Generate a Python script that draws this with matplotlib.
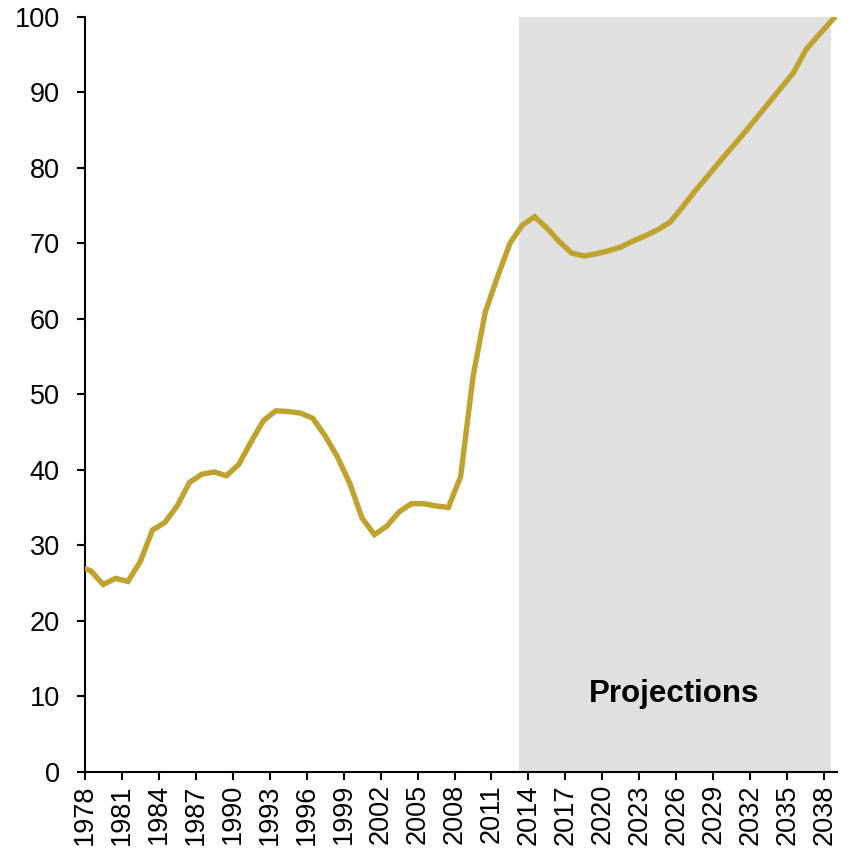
import matplotlib
matplotlib.use("Agg")
import matplotlib.pyplot as plt
import numpy as np

plt.rcParams['font.family'] = ['Liberation Sans', 'DejaVu Sans']

# Annual values, plotted at mid-year
years = np.arange(1977, 2040)
values = [
    27.2, 26.6, 24.8, 25.6, 25.2, 27.8, 32.0, 33.0, 35.2, 38.3,
    39.4, 39.7, 39.2, 40.7, 43.7, 46.5, 47.8, 47.7, 47.5, 46.8,
    44.5, 41.7, 38.2, 33.6, 31.4, 32.5, 34.4, 35.5, 35.5, 35.2,
    35.0, 39.1, 52.3, 60.9, 65.6, 70.0, 72.4, 73.5, 72.0, 70.2,
    68.7, 68.3, 68.6, 69.0, 69.5, 70.3, 71.0, 71.8, 72.8, 74.8,
    76.9, 78.8, 80.8, 82.7, 84.6, 86.6, 88.6, 90.6, 92.6, 95.6,
    97.5, 99.3, 101.2,
]
tick_years = list(range(1978, 2039, 3))
proj_start, proj_end = 2013.25, 2038.5
proj_label = "Projections"

fig = plt.figure(figsize=(8.52, 8.48), dpi=100)
ax = fig.add_axes([0.0994, 0.0900, 0.8826, 0.8903])

ax.axvspan(proj_start, proj_end, ymin=0, ymax=1, color="#E0E0E0", lw=0, zorder=0)
ax.plot(years + 0.5, values, color="#C0A22F", lw=3.9, solid_joinstyle="miter", zorder=3)

ax.text((proj_start + proj_end) / 2 - 0.1, 10.3, proj_label, ha="center", va="center",
        fontsize=22.5, fontweight="bold", color="black")

ax.set_xlim(1978, 2039)
ax.set_ylim(0, 100)
ax.set_yticks(np.arange(0, 101, 10))
ax.set_xticks(tick_years)
ax.set_xticklabels([str(y) for y in tick_years], rotation=90)
ax.tick_params(axis="both", labelsize=19.5, direction="out", length=6, width=1.5, color="black")
ax.tick_params(axis="y", pad=12)
ax.tick_params(axis="x", pad=3)

for side in ("top", "right"):
    ax.spines[side].set_visible(False)
for side in ("left", "bottom"):
    ax.spines[side].set_linewidth(1.5)
    ax.spines[side].set_color("black")

fig.savefig("out.png", dpi=100)
